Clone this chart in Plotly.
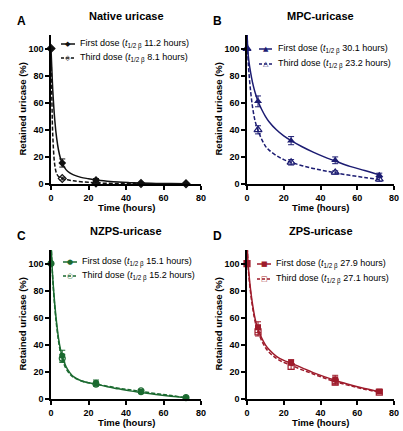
import plotly.graph_objects as go

# ---------------- data ----------------
t_obs = [0, 6, 24, 48, 72]

a_first = [100, 15.5, 3.0, 0.5, 0.3]
a_first_err = [0, 3.0, 1.0, 0.3, 0.2]
a_third = [100, 4.0, 0.8, 0.3, 0.2]
a_third_err = [0, 1.0, 0.4, 0.2, 0.1]

b_first = [100, 61, 32, 17.5, 6.5]
b_first_err = [0, 4.0, 3.0, 2.5, 1.5]
b_third = [100, 40, 16, 8.5, 3.5]
b_third_err = [0, 3.0, 2.0, 1.2, 1.5]

c_first = [100, 32, 12, 5, 1]
c_first_err = [0, 4.0, 2.0, 1.0, 0.5]
c_third = [100, 30, 11, 6, 1]
c_third_err = [0, 3.0, 1.5, 1.0, 0.5]

d_first = [100, 53, 27, 14.5, 5.5]
d_first_err = [0, 4.0, 2.0, 3.0, 1.0]
d_third = [100, 49.5, 24, 12.5, 5]
d_third_err = [0, 3.0, 2.0, 2.0, 1.0]

# fitted curves
t_fit = [0, 0.5, 1, 2, 3, 4, 5, 6, 8, 10, 12, 16, 20, 24, 30, 36, 42, 48, 56, 64, 72]
a_first_fit = [100, 83, 68, 47.4, 34, 25.1, 19.2, 15.2, 10.6, 8.2, 6.7, 4.9, 3.9, 3.0, 2.1, 1.4, 1.0, 0.7, 0.45, 0.3, 0.2]
a_third_fit = [100, 60, 34.2, 14.1, 7.7, 5.5, 4.6, 4.0, 3.4, 2.8, 2.4, 1.7, 1.2, 0.86, 0.51, 0.31, 0.2, 0.11, 0.07, 0.04, 0.02]
b_first_fit = [112, 98, 91, 82, 75, 69.5, 65, 61, 55, 50, 46, 40, 35.5, 32, 27.5, 23.5, 20, 17, 13, 10, 6.8]
b_third_fit = [112, 94, 83, 68, 57, 49, 43.5, 39.5, 33, 28, 25, 21, 18, 16, 13.5, 11.5, 9.8, 8.3, 6.4, 4.8, 3.4]
c_first_fit = [118, 100, 88, 70, 56, 45, 37, 31.5, 24, 19.5, 16.5, 13.5, 12, 11, 9, 7.5, 6, 4.8, 3.3, 2.0, 1.0]
c_third_fit = [118, 100, 87, 68, 54, 43, 35, 29.5, 22.5, 18.5, 16, 13.5, 12, 11, 9.5, 8, 6.8, 5.6, 4.0, 2.5, 1.0]
d_first_fit = [116, 102, 93, 80, 70, 62, 56, 52, 45, 40, 36.5, 31.5, 28.5, 26.5, 23, 19.5, 16.5, 13.8, 10.5, 7.8, 5.5]
d_third_fit = [116, 101, 91, 78, 68, 60, 54, 50, 43, 38, 34.5, 30, 27, 25, 21.5, 18.5, 15.5, 12.8, 9.8, 7.2, 5.0]

titles = ["Native uricase", "MPC-uricase", "NZPS-uricase", "ZPS-uricase"]
letters = ["A", "B", "C", "D"]
half_first = ["11.2", "30.1", "15.1", "27.9"]
half_third = ["8.1", "23.2", "15.2", "27.1"]
colors = ["#111111", "#1c1c72", "#1b6a30", "#9e1b2b"]
symbols = ["diamond", "triangle-up", "circle", "square"]
glyph_filled = ["◆", "▲", "●", "■"]
glyph_open = ["◇", "△", "○", "□"]
x_ticks = [0, 20, 40, 60, 80]
y_ticks = [0, 20, 40, 60, 80, 100]

panels = [
    (a_first, a_first_err, a_third, a_third_err, a_first_fit, a_third_fit),
    (b_first, b_first_err, b_third, b_third_err, b_first_fit, b_third_fit),
    (c_first, c_first_err, c_third, c_third_err, c_first_fit, c_third_fit),
    (d_first, d_first_err, d_third, d_third_err, d_first_fit, d_third_fit),
]

# ---------------- layout geometry (page pixels) ----------------
W, H = 403, 431
xdom_px = [(51, 201), (247, 394), (51, 201), (247, 394)]
ydom_px = [(35, 184), (35, 184), (250, 399), (250, 399)]
# legend placement: (line x0, line x1, text x, y first, y third)
legend_px = [(61, 75, 78, 44, 58), (259, 272, 276, 49, 64),
             (63, 77, 80, 262, 276), (257, 271, 274, 264, 279)]

def px_x(p):
    return p / W

def px_y(p):
    return 1 - p / H

fig = go.Figure()
FONT = "Liberation Sans, Arial, sans-serif"
shapes = []
annotations = []

for i, (f, fe, th, the, ff, tf) in enumerate(panels):
    n = "" if i == 0 else str(i + 1)
    xa, ya = "x" + n, "y" + n
    col = colors[i]
    sym = symbols[i]
    # fitted curves
    fig.add_trace(go.Scatter(x=t_fit, y=ff, mode="lines", line=dict(color=col, width=1.5, shape="spline"),
                             xaxis=xa, yaxis=ya, showlegend=False, hoverinfo="skip"))
    fig.add_trace(go.Scatter(x=t_fit, y=tf, mode="lines",
                             line=dict(color=col, width=1.5, dash="4px,2px", shape="spline"),
                             xaxis=xa, yaxis=ya, showlegend=False, hoverinfo="skip"))
    # observed points
    msize = {"diamond": 6, "triangle-up": 7, "circle": 6, "square": 6}[sym]
    fig.add_trace(go.Scatter(x=t_obs, y=f, mode="markers",
                             marker=dict(symbol=sym, size=msize, color=col),
                             error_y=dict(type="data", array=fe, color=col, thickness=1, width=3),
                             xaxis=xa, yaxis=ya, showlegend=False, cliponaxis=False))
    fig.add_trace(go.Scatter(x=t_obs, y=th, mode="markers",
                             marker=dict(symbol=sym + "-open", size=msize, color=col, line=dict(width=1.2, color=col)),
                             error_y=dict(type="data", array=the, color=col, thickness=1, width=3),
                             xaxis=xa, yaxis=ya, showlegend=False, cliponaxis=False))

    x0, x1 = xdom_px[i]
    y0, y1 = ydom_px[i]
    axis_common = dict(showline=True, linecolor="black", linewidth=1.5, ticks="outside",
                       ticklen=4, tickwidth=1.5, tickcolor="black", showgrid=False, zeroline=False,
                       automargin=False,
                       tickfont=dict(family=FONT, size=9, color="black", weight="bold"))
    fig.layout["xaxis" + n] = dict(domain=[px_x(x0), px_x(x1)], range=[0, 80], tickvals=x_ticks,
                                   anchor=ya, **axis_common)
    fig.layout["yaxis" + n] = dict(domain=[px_y(y1), px_y(y0)], range=[0, 110], tickvals=y_ticks,
                                   anchor=xa, **axis_common)

    # axis titles
    annotations.append(dict(text="<b>Time (hours)</b>", x=px_x((x0 + x1) / 2), y=px_y(y1 + 23),
                            xref="paper", yref="paper", showarrow=False, xanchor="center", yanchor="middle",
                            font=dict(family=FONT, size=9.5, color="black")))
    annotations.append(dict(text="<b>Retained uricase (%)</b>", x=px_x(x0 - 29), y=px_y((y0 + y1) / 2),
                            xref="paper", yref="paper", showarrow=False, xanchor="center", yanchor="middle",
                            textangle=-90, font=dict(family=FONT, size=9.5, color="black")))
    # panel title and letter
    annotations.append(dict(text="<b>" + titles[i] + "</b>", x=px_x((x0 + x1) / 2), y=px_y(y0 - 19),
                            xref="paper", yref="paper", showarrow=False, xanchor="center", yanchor="middle",
                            font=dict(family=FONT, size=11, color="black")))
    annotations.append(dict(text="<b>" + letters[i] + "</b>", x=px_x(x0 - 30), y=px_y(y0 - 14),
                            xref="paper", yref="paper", showarrow=False, xanchor="center", yanchor="middle",
                            font=dict(family=FONT, size=12, color="black")))

    # legend (drawn manually)
    lx0, lx1, tx, yf, yt = legend_px[i]
    entries = [("First dose", half_first[i], yf, "solid", glyph_filled[i]),
               ("Third dose", half_third[i], yt, "3px,2px", glyph_open[i])]
    for label, hl, yy, dash, glyph in entries:
        shapes.append(dict(type="line", xref="paper", yref="paper", x0=px_x(lx0), x1=px_x(lx1),
                           y0=px_y(yy), y1=px_y(yy), line=dict(color=col, width=1.5, dash=dash)))
        annotations.append(dict(text=glyph, x=px_x((lx0 + lx1) / 2), y=px_y(yy), xref="paper", yref="paper",
                                showarrow=False, xanchor="center", yanchor="middle",
                                font=dict(family="DejaVu Sans", size=7, color=col)))
        annotations.append(dict(text=label + " (<i>t</i><sub>1/2 β</sub> " + hl + " hours)",
                                x=px_x(tx), y=px_y(yy), xref="paper", yref="paper", showarrow=False,
                                xanchor="left", yanchor="middle",
                                font=dict(family=FONT, size=9, color="black")))

fig.update_layout(width=W, height=H, margin=dict(l=0, r=0, t=0, b=0), showlegend=False,
                  plot_bgcolor="white", paper_bgcolor="white", shapes=shapes, annotations=annotations)
fig.write_html("out.html", config={"displayModeBar": False},
               post_script="document.body.style.margin='0';document.body.style.overflow='hidden';")
